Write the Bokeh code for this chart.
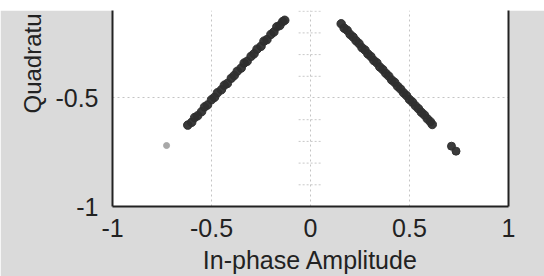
from bokeh.plotting import figure
from bokeh.models import FixedTicker, LinearAxis, Range1d, Spacer, Title
from bokeh.layouts import column
from bokeh.embed import file_html
from bokeh.resources import INLINE

# ---- data ----
left_i = [-0.62, -0.60, -0.585, -0.57, -0.55, -0.535, -0.52, -0.50, -0.485, -0.47,
          -0.45, -0.435, -0.42, -0.40, -0.385, -0.37, -0.35, -0.335, -0.32, -0.30,
          -0.285, -0.27, -0.25, -0.235, -0.22, -0.20, -0.185, -0.17, -0.155, -0.14, -0.13]
left_q = [-0.625, -0.612, -0.59, -0.582, -0.563, -0.541, -0.532, -0.508, -0.497, -0.476,
          -0.462, -0.441, -0.433, -0.409, -0.396, -0.377, -0.362, -0.339, -0.331, -0.308,
          -0.296, -0.275, -0.262, -0.238, -0.231, -0.207, -0.196, -0.172, -0.166, -0.148, -0.142]
right_i = [0.155, 0.17, 0.185, 0.20, 0.215, 0.23, 0.245, 0.26, 0.275, 0.29, 0.305, 0.32,
           0.335, 0.35, 0.365, 0.38, 0.395, 0.41, 0.425, 0.44, 0.455, 0.47, 0.485, 0.50,
           0.515, 0.53, 0.545, 0.56, 0.575, 0.59, 0.605, 0.615]
right_q = [-0.158, -0.178, -0.188, -0.207, -0.219, -0.236, -0.249, -0.268, -0.279, -0.297,
           -0.309, -0.327, -0.338, -0.357, -0.369, -0.386, -0.399, -0.417, -0.428, -0.446,
           -0.459, -0.476, -0.489, -0.507, -0.519, -0.536, -0.549, -0.566, -0.578, -0.596,
           -0.609, -0.622]
outlier_dark_i = [0.712, 0.735]
outlier_dark_q = [-0.722, -0.745]
outlier_light_i = [-0.727]
outlier_light_q = [-0.719]

x_ticks = [-1, -0.5, 0, 0.5, 1]
x_tick_labels = ["-1", "-0.5", "0", "0.5", "1"]
y_ticks = [-1, -0.5]
y_tick_labels = ["-1", "-0.5"]
center_ticks = [-0.9, -0.8, -0.7, -0.6, -0.4, -0.3, -0.2, -0.1]
center_tick_half = 0.06
x_title = "In-phase Amplitude"
y_title_visible = "Quadratu"   # the rest of "Quadrature Amplitude" is cropped off in the original

FONT = "Liberation Sans"
BG = "#dadada"
INK = "#222222"

p = figure(width=544, height=266, output_backend="svg", toolbar_location=None,
           x_range=Range1d(-1, 1), y_range=Range1d(-1, -0.0968),
           min_border_left=112, min_border_right=36, min_border_top=0, min_border_bottom=70,
           border_fill_color=BG, background_fill_color="white")
p.outline_line_color = None

for g in (p.xgrid, p.ygrid):
    g.grid_line_color = "#c4c4c4"
    g.grid_line_dash = "2 3"
    g.grid_line_width = 1
p.xgrid.ticker = FixedTicker(ticks=x_ticks)
p.ygrid.ticker = FixedTicker(ticks=y_ticks)

for ax, ticks, labels in ((p.xaxis[0], x_ticks, x_tick_labels), (p.yaxis[0], y_ticks, y_tick_labels)):
    ax.ticker = FixedTicker(ticks=ticks)
    ax.major_label_overrides = {t: l for t, l in zip(ticks, labels)}
    ax.major_tick_line_color = None
    ax.minor_tick_line_color = None
    ax.axis_line_color = INK
    ax.axis_line_width = 2
    ax.major_label_text_font = FONT
    ax.major_label_text_font_size = "25px"
    ax.major_label_text_color = INK
p.xaxis.major_label_standoff = 6
p.yaxis.major_label_standoff = 8
p.xaxis.axis_label = x_title
p.xaxis.axis_label_text_font = FONT
p.xaxis.axis_label_text_font_size = "25px"
p.xaxis.axis_label_text_font_style = "normal"
p.xaxis.axis_label_text_color = INK
p.xaxis.axis_label_standoff = 6

right = LinearAxis(ticker=FixedTicker(ticks=[]), axis_line_color=INK, axis_line_width=2,
                   major_tick_line_color=None, minor_tick_line_color=None)
p.add_layout(right, "right")

# y-axis title (cropped in the original), placed as a side title
p.add_layout(Title(text=y_title_visible, align="left", offset=93, standoff=13,
                   text_font=FONT, text_font_size="24px", text_font_style="normal",
                   text_color=INK), "left")

# short dotted marks along the x=0 line
p.segment(x0=[-center_tick_half] * len(center_ticks), x1=[center_tick_half] * len(center_ticks),
          y0=center_ticks, y1=center_ticks, line_color="#c8c8c8", line_dash="2 2", line_width=1)

# constellation points
p.scatter(left_i, left_q, size=8.5, color="#2e2e2e", alpha=0.95)
p.scatter(right_i, right_q, size=8.5, color="#2e2e2e", alpha=0.95)
p.scatter(outlier_dark_i, outlier_dark_q, size=8, color="#303030", alpha=0.95)
p.scatter(outlier_light_i, outlier_light_q, size=6, color="#a8a8a8")

layout = column(Spacer(width=544, height=10), p, spacing=0)

open("out.html", "w").write(file_html(layout, INLINE))
